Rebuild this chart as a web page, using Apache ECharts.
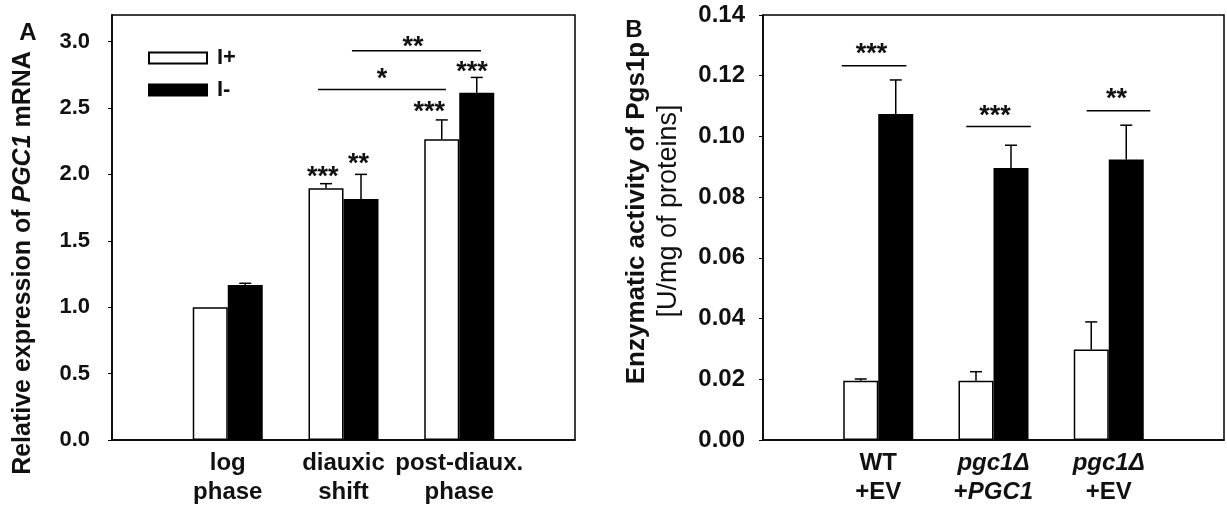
<!DOCTYPE html>
<html>
<head>
<meta charset="utf-8">
<script src="https://cdn.jsdelivr.net/npm/echarts@6/dist/echarts.min.js"></script>
<style>
html, body { margin: 0; padding: 0; background: #fff; }
#chart { width: 1227px; height: 507px; }
</style>
</head>
<body>
<div id="chart"></div>
<script>
const FONT = '"Liberation Sans", Arial, sans-serif';

// panel A - relative PGC1 mRNA
const phaseLabels = ['log\nphase', 'diauxic\nshift', 'post-diaux.\nphase'];
const mrnaPlus = [1.00, 1.895, 2.265];
const mrnaPlusErr = [0, 0.035, 0.145];
const mrnaMinus = [1.168, 1.814, 2.614];
const mrnaMinusErr = [0.012, 0.186, 0.116];
const mrnaTicks = ['0.0', '0.5', '1.0', '1.5', '2.0', '2.5', '3.0'];
// stars over single bars: [x on category axis, y, text]
const mrnaStars = [[1.82, 2.02, '***'], [2.13, 2.12, '**'], [2.74, 2.51, '***'], [3.11, 2.81, '***']];
// brackets: [x from, x to, y, label x, label y, text]
const mrnaBrackets = [[1.78, 2.885, 2.64, 2.333, 2.76, '*'], [2.073, 3.188, 2.93, 2.60, 3.0, '**']];

// panel B - Pgs1p activity
const strainLabels = ['WT\n+EV', '{i|pgc1Δ}\n+{i|PGC1}', '{i|pgc1Δ}\n+EV'];
const pgsPlus = [0.0195, 0.0195, 0.0298];
const pgsPlusErr = [0.0006, 0.003, 0.0091];
const pgsMinus = [0.1074, 0.0896, 0.0924];
const pgsMinusErr = [0.0112, 0.0075, 0.0113];
const pgsTicks = ['0.00', '0.02', '0.04', '0.06', '0.08', '0.10', '0.12', '0.14'];
const pgsBrackets = [[0.683, 1.244, 0.1233, 0.942, 0.1289, '***'], [1.763, 2.324, 0.1033, 2.013, 0.1085, '***'], [2.808, 3.361, 0.1085, 3.067, 0.1141, '**']];

const chart = echarts.init(document.getElementById('chart'));

function pad(arr) { return [null].concat(arr, [null]); }

function bars(name, xi, vals, filled) {
  return {
    name: name, type: 'bar', xAxisIndex: xi, yAxisIndex: xi,
    data: pad(vals), barWidth: 35, barGap: '0%',
    itemStyle: { color: filled ? '#000' : '#fff', borderColor: '#000', borderWidth: 1.5 },
    silent: true
  };
}

function errorBars(xi, vals, errs, shift) {
  return {
    type: 'custom', xAxisIndex: xi, yAxisIndex: xi, z: 5, silent: true,
    data: vals.map((v, i) => [i + 1, v, errs[i]]),
    renderItem(params, api) {
      const err = api.value(2);
      if (!err) return null;
      const base = api.coord([api.value(0), api.value(1)]);
      const top = api.coord([api.value(0), api.value(1) + err]);
      const x = base[0] + shift;
      const st = { stroke: '#000', lineWidth: 1.5 };
      return { type: 'group', children: [
        { type: 'line', shape: { x1: x, y1: base[1], x2: x, y2: top[1] }, style: st },
        { type: 'line', shape: { x1: x - 6, y1: top[1], x2: x + 6, y2: top[1] }, style: st }
      ] };
    }
  };
}

function starText(x, y, text) {
  return { type: 'text', x: x, y: y + 6,
    style: { text: text, fill: '#111', font: 'bold 27px ' + FONT, align: 'center', verticalAlign: 'middle' } };
}

function brackets(xi, list) {
  return {
    type: 'custom', xAxisIndex: xi, yAxisIndex: xi, z: 6, silent: true,
    data: list.map(b => [0, b[2]]),
    renderItem(params, api) {
      const b = list[params.dataIndex];
      const x0 = api.coord([0, 0])[0];
      const bw = api.size([1, 0])[0];
      const y = api.coord([0, b[2]])[1];
      const ly = api.coord([0, b[4]])[1];
      return { type: 'group', children: [
        { type: 'line', shape: { x1: x0 + b[0] * bw, y1: y, x2: x0 + b[1] * bw, y2: y }, style: { stroke: '#000', lineWidth: 1.5 } },
        starText(x0 + b[3] * bw, ly, b[5])
      ] };
    }
  };
}

function stars(xi, list) {
  return {
    type: 'custom', xAxisIndex: xi, yAxisIndex: xi, z: 6, silent: true,
    data: list.map(s => [0, s[1]]),
    renderItem(params, api) {
      const s = list[params.dataIndex];
      const x0 = api.coord([0, 0])[0];
      const bw = api.size([1, 0])[0];
      return starText(x0 + s[0] * bw, api.coord([0, s[1]])[1], s[2]);
    }
  };
}

function xAxis(grid, labels, rich) {
  return {
    type: 'category', gridIndex: grid, boundaryGap: false,
    data: pad(labels).map(v => v || ''),
    axisLine: { lineStyle: { color: '#000', width: 1.5 } },
    axisTick: { show: false },
    axisLabel: { interval: 0, margin: 9, color: '#111', fontSize: 24, fontWeight: 'bold', fontFamily: FONT, lineHeight: 29, rich: rich }
  };
}

function yAxis(grid, max, step, ticks, size, margin) {
  return {
    type: 'value', gridIndex: grid, min: 0, max: max, interval: step,
    splitLine: { show: false },
    axisLine: { show: true, lineStyle: { color: '#000', width: 1.5 } },
    axisTick: { show: true, length: 4, lineStyle: { color: '#000', width: 1 } },
    axisLabel: { showMaxLabel: ticks.length * step - step < max - 1e-9 ? false : true, margin: margin, color: '#111', fontSize: size, fontWeight: 'bold', fontFamily: FONT,
      formatter: (v, i) => ticks[i] || '' }
  };
}

const italicRich = { i: { fontStyle: 'italic', fontWeight: 'bold', fontSize: 24, fontFamily: FONT, color: '#111', lineHeight: 29 } };

chart.setOption({
  animation: false,
  backgroundColor: '#fff',
  grid: [
    { left: 112, top: 15, width: 463, height: 427, show: true, borderColor: '#000', borderWidth: 1.5 },
    { left: 763, top: 15, width: 463, height: 427, show: true, borderColor: '#000', borderWidth: 1.5 }
  ],
  legend: {
    data: ['I+', 'I-'], orient: 'vertical', left: 143, top: 42, itemWidth: 58, itemHeight: 11, itemGap: 10,
    icon: 'rect', selectedMode: false,
    textStyle: { fontSize: 22, fontWeight: 'bold', color: '#111', fontFamily: FONT, padding: [0, 0, 0, 5] }
  },
  xAxis: [xAxis(0, phaseLabels), xAxis(1, strainLabels, italicRich)],
  yAxis: [yAxis(0, 3.2, 0.5, mrnaTicks, 22, 22), yAxis(1, 0.14, 0.02, pgsTicks, 24, 18)],
  graphic: [
    { type: 'text', x: 28, y: 33, style: { text: 'A', font: 'bold 24px ' + FONT, fill: '#111', align: 'center', verticalAlign: 'middle' } },
    { type: 'text', x: 634, y: 30, style: { text: 'B', font: 'bold 24px ' + FONT, fill: '#111', align: 'center', verticalAlign: 'middle' } },
    { type: 'text', x: 23, y: 263, rotation: Math.PI / 2,
      style: { text: '{b|Relative expression of }{bi|PGC1}{b| mRNA}', align: 'center', verticalAlign: 'middle',
        rich: { b: { fontSize: 25, fontWeight: 'bold', fontFamily: FONT, fill: '#111' },
                bi: { fontSize: 25, fontWeight: 'bold', fontStyle: 'italic', fontFamily: FONT, fill: '#111' } } } },
    { type: 'text', x: 637, y: 213, rotation: Math.PI / 2,
      style: { text: 'Enzymatic activity of Pgs1p', font: 'bold 26px ' + FONT, fill: '#111', align: 'center', verticalAlign: 'middle' } },
    { type: 'text', x: 669, y: 211, rotation: Math.PI / 2,
      style: { text: '[U/mg of proteins]', font: '27px ' + FONT, fill: '#111', align: 'center', verticalAlign: 'middle' } }
  ],
  series: [
    bars('I+', 0, mrnaPlus, false),
    bars('I-', 0, mrnaMinus, true),
    errorBars(0, mrnaPlus, mrnaPlusErr, -17.5),
    errorBars(0, mrnaMinus, mrnaMinusErr, 17.5),
    brackets(0, mrnaBrackets),
    stars(0, mrnaStars),
    bars('I+', 1, pgsPlus, false),
    bars('I-', 1, pgsMinus, true),
    errorBars(1, pgsPlus, pgsPlusErr, -17.5),
    errorBars(1, pgsMinus, pgsMinusErr, 17.5),
    brackets(1, pgsBrackets)
  ]
});
</script>
</body>
</html>
